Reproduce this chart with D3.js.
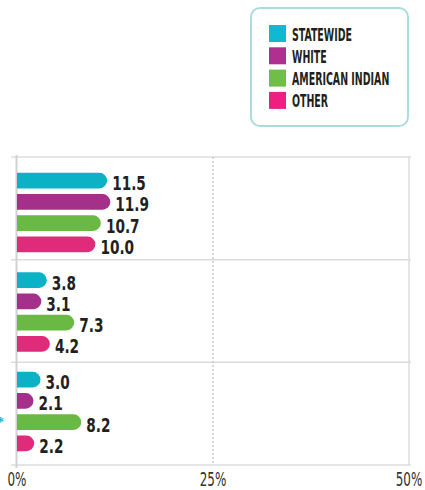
<!DOCTYPE html>
<html>
<head>
<meta charset="utf-8">
<script src="https://cdn.jsdelivr.net/npm/d3@7.9.0/dist/d3.min.js"></script>
<style>
  body { margin: 0; background: #fff; }
  svg { display: block; }
  .cond { font-family: "DejaVu Sans Condensed", "Liberation Sans Narrow", sans-serif; }
</style>
</head>
<body>
<svg id="chart" width="425" height="490"></svg>
<script>
const groups = ['A', 'B', 'C'];
const series = ['STATEWIDE', 'WHITE', 'AMERICAN INDIAN', 'OTHER'];
const statewide = [11.5, 3.8, 3.0];
const white = [11.9, 3.1, 2.1];
const americanIndian = [10.7, 7.3, 8.2];
const other = [10.0, 4.2, 2.2];
const xTicks = [0, 25, 50];

const seriesValues = [statewide, white, americanIndian, other];
const colors = ['#0bb2c6', '#a3318a', '#6ab945', '#e02b7b'];
const legendColors = ['#12b8d2', '#b0308f', '#70be46', '#ee1f80'];

const svg = d3.select('#chart');

const x = d3.scaleLinear().domain([0, 50]).range([17, 409]);
// band edges (gridlines) and bar group positions
const yGrid = d3.scaleBand().domain(groups).range([157, 465]);
const yGroup = d3.scaleBand().domain(groups).range([170, 468.5]);
const yInner = d3.scaleBand().domain(series).range([0, 85]).paddingInner(0.27).paddingOuter(0.135);

// gridlines
const grid = svg.append('g');
const edges = groups.map((g) => yGrid(g)).concat([yGrid.range()[1]]);
edges.forEach((yy) => {
    grid.append('line')
        .attr('x1', 11).attr('x2', 411)
        .attr('y1', yy).attr('y2', yy)
        .attr('stroke', '#dcdcdc').attr('stroke-width', 1.5);
});
grid.append('line')
    .attr('x1', x(50)).attr('x2', x(50))
    .attr('y1', 157).attr('y2', 465)
    .attr('stroke', '#dcdcdc').attr('stroke-width', 1.5);
grid.append('line')
    .attr('x1', x(25)).attr('x2', x(25))
    .attr('y1', 157).attr('y2', 465)
    .attr('stroke', '#b5b5b5').attr('stroke-width', 1)
    .attr('stroke-dasharray', '2,2');
grid.append('line')
    .attr('x1', x(0) - 0.5).attr('x2', x(0) - 0.5)
    .attr('y1', 155).attr('y2', 468)
    .attr('stroke', '#d2d2d2').attr('stroke-width', 2);

// bars
function barPath(x0, x1, y, h) {
    const r = h / 2;
    return `M${x0},${y}H${x1 - r}A${r},${r} 0 0 1 ${x1 - r},${y + h}H${x0}Z`;
}

const bars = svg.append('g');
groups.forEach((g, gi) => {
    series.forEach((s, si) => {
        const v = seriesValues[si][gi];
        const y = yGroup(g) + yInner(s);
        const h = yInner.bandwidth();
        bars.append('path')
            .attr('d', barPath(x(0), x(v), y, h))
            .attr('fill', colors[si]);
        bars.append('text')
            .attr('class', 'cond')
            .attr('transform', `translate(${x(v) + 5},${y + h / 2 + 9.5}) scale(0.8,1)`)
            .attr('font-size', 19)
            .attr('font-weight', 'bold')
            .attr('fill', '#231f20')
            .text(v.toFixed(1));
    });
});

// clipped category marker at left edge
svg.append('text')
    .attr('x', -3).attr('y', 427)
    .attr('font-size', 14).attr('font-weight', 'bold')
    .attr('fill', '#12b8d2')
    .text('*');

// x axis labels
svg.append('g').selectAll('text')
    .data(xTicks)
    .join('text')
    .attr('class', 'cond')
    .attr('transform', (d) => `translate(${x(d)},486) scale(0.7,1)`)
    .attr('text-anchor', 'middle')
    .attr('font-size', 19)
    .attr('fill', '#333')
    .text((d) => `${d}%`);

// legend
const legend = svg.append('g');
legend.append('rect')
    .attr('x', 251).attr('y', 8)
    .attr('width', 157).attr('height', 118)
    .attr('rx', 9)
    .attr('fill', '#fff')
    .attr('stroke', '#a9dcdc').attr('stroke-width', 2);

series.forEach((s, i) => {
    const ly = 25 + i * 22.3;
    legend.append('rect')
        .attr('x', 269).attr('y', ly)
        .attr('width', 17).attr('height', 17)
        .attr('fill', legendColors[i]);
    legend.append('text')
        .attr('class', 'cond')
        .attr('transform', `translate(292,${ly + 15.5}) scale(0.6,1)`)
        .attr('font-size', 17.5)
        .attr('font-weight', 'bold')
        .attr('fill', '#231f20')
        .text(s);
});
</script>
</body>
</html>
